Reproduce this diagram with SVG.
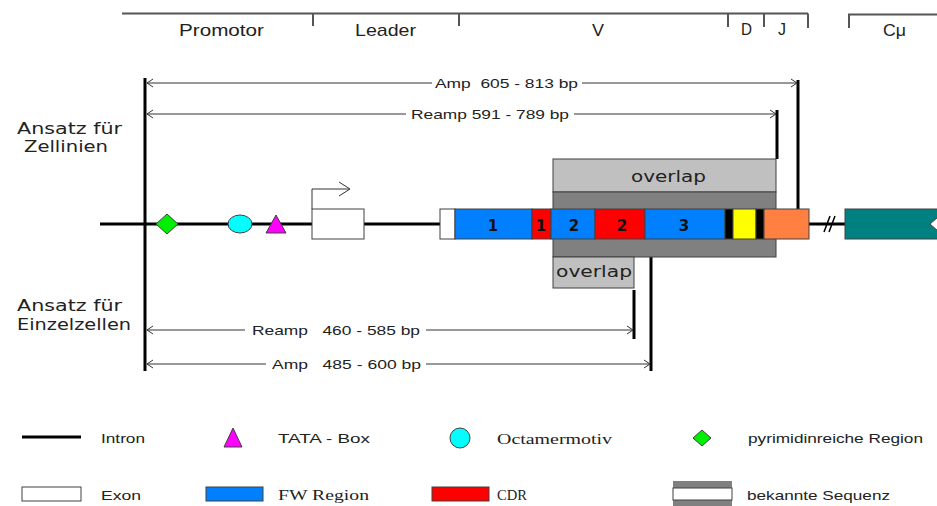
<svg xmlns="http://www.w3.org/2000/svg" width="937" height="506" viewBox="0 0 937 506">
<style>
.hdr{font-family:"Liberation Sans",Arial,sans-serif;font-size:17px;fill:#222}
.dim{font-family:"Liberation Sans",Arial,sans-serif;font-size:13px;fill:#222;white-space:pre}
.ans{font-family:"DejaVu Sans",Verdana,sans-serif;font-size:15px;fill:#222}
.ovl{font-family:"DejaVu Sans",Verdana,sans-serif;font-size:15px;fill:#222}
.num{font-family:"DejaVu Sans",Verdana,sans-serif;font-size:15px;font-weight:bold;fill:#111}
.lgs{font-family:"Liberation Sans",Arial,sans-serif;font-size:13px;fill:#222}
.lgr{font-family:"Liberation Serif","Times New Roman",serif;font-size:14px;fill:#222}
.thin{stroke:#333;stroke-width:1;fill:none}
.thick{stroke:#000;stroke-width:3;fill:none}
.bx{stroke:#404040;stroke-width:1}
</style>
<defs>
<marker id="ah" viewBox="-1 -5 8 10" markerWidth="8" markerHeight="10" refX="6" refY="0" orient="auto-start-reverse" markerUnits="userSpaceOnUse">
<path d="M0,-4 L6,0 L0,4" fill="none" stroke="#333" stroke-width="1"/>
</marker>
</defs>
<rect width="937" height="506" fill="#fff"/>

<g id="header">
<path d="M122,13.5 H808 M313,13.5 V26 M459,13.5 V26 M728,13.5 V27 M764,13.5 V27 M808,13.5 V28 M849,28 V14.5 H937" stroke="#555" stroke-width="2" fill="none"/>
<text class="hdr" x="179" y="36" textLength="85" lengthAdjust="spacingAndGlyphs">Promotor</text>
<text class="hdr" x="355" y="36" textLength="61" lengthAdjust="spacingAndGlyphs">Leader</text>
<text class="hdr" x="592" y="36" textLength="12" lengthAdjust="spacingAndGlyphs">V</text>
<text class="hdr" x="741" y="35" textLength="11" lengthAdjust="spacingAndGlyphs">D</text>
<text class="hdr" x="778" y="35" textLength="8" lengthAdjust="spacingAndGlyphs">J</text>
<text class="hdr" x="883" y="36" textLength="23" lengthAdjust="spacingAndGlyphs">Cμ</text>
</g>

<g id="labels">
<text class="ans" x="17" y="134" textLength="105" lengthAdjust="spacingAndGlyphs">Ansatz für</text>
<text class="ans" x="24" y="152" textLength="84" lengthAdjust="spacingAndGlyphs">Zellinien</text>
<text class="ans" x="17" y="311" textLength="105" lengthAdjust="spacingAndGlyphs">Ansatz für</text>
<text class="ans" x="17" y="330" textLength="114" lengthAdjust="spacingAndGlyphs">Einzelzellen</text>
</g>

<g id="connectors">
<path class="thick" d="M100,224 H440 M809,224 H845"/>
<path class="thick" d="M145,78 V371"/>
<path class="thick" d="M798,80 V209"/>
<path class="thick" d="M777,110 V159"/>
<path class="thick" d="M651,257 V371"/>
<path class="thick" d="M634,290 V339"/>
<path d="M824,232 L830,216 M829,232 L835,216" stroke="#000" stroke-width="1.5"/>
<line class="thin" x1="147" y1="83" x2="432" y2="83" marker-start="url(#ah)"/>
<line class="thin" x1="582" y1="83" x2="797" y2="83" marker-end="url(#ah)"/>
<line class="thin" x1="147" y1="114" x2="406" y2="114" marker-start="url(#ah)"/>
<line class="thin" x1="574" y1="114" x2="776" y2="114" marker-end="url(#ah)"/>
<line class="thin" x1="147" y1="330" x2="245" y2="330" marker-start="url(#ah)"/>
<line class="thin" x1="426" y1="330" x2="633" y2="330" marker-end="url(#ah)"/>
<line class="thin" x1="147" y1="364" x2="266" y2="364" marker-start="url(#ah)"/>
<line class="thin" x1="426" y1="364" x2="650" y2="364" marker-end="url(#ah)"/>
<text class="dim" x="435" y="88" textLength="143" lengthAdjust="spacingAndGlyphs" xml:space="preserve">Amp  605 - 813 bp</text>
<text class="dim" x="411" y="119" textLength="158" lengthAdjust="spacingAndGlyphs">Reamp 591 - 789 bp</text>
<text class="dim" x="252" y="335" textLength="168" lengthAdjust="spacingAndGlyphs" xml:space="preserve">Reamp   460 - 585 bp</text>
<text class="dim" x="272" y="369" textLength="149" lengthAdjust="spacingAndGlyphs" xml:space="preserve">Amp   485 - 600 bp</text>
</g>

<g id="pyrimidin">
<polygon points="156,224 167,214 178,224 167,234" fill="#00ee00" class="bx"/>
</g>
<g id="octamer">
<ellipse cx="240" cy="224" rx="12" ry="9" fill="#00ffff" class="bx"/>
</g>
<g id="tata">
<polygon points="276,215 286,233 266,233" fill="#ff00ff" class="bx"/>
</g>
<g id="promoter-exon">
<rect x="312" y="209" width="52" height="30" fill="#fff" class="bx"/>
<path d="M312,209 V189 H349" stroke="#333" stroke-width="1" fill="none"/>
<path d="M339,182 L350,189 L339,196" stroke="#333" stroke-width="1" fill="none"/>
</g>

<g id="overlap-known">
<rect x="553" y="159" width="223" height="33" fill="#c0c0c0" class="bx"/>
<text class="ovl" x="631" y="182" textLength="75" lengthAdjust="spacingAndGlyphs">overlap</text>
<rect x="553" y="192" width="223" height="65" fill="#808080" class="bx"/>
</g>
<g id="overlap-single">
<rect x="553" y="257" width="81" height="31" fill="#c0c0c0" class="bx"/>
<text class="ovl" x="556" y="277" textLength="76" lengthAdjust="spacingAndGlyphs">overlap</text>
</g>

<g id="vexon">
<rect x="440" y="209" width="15" height="30" fill="#fff" class="bx"/>
<rect x="455" y="209" width="77" height="30" fill="#0080ff" class="bx"/>
<rect x="532" y="209" width="19" height="30" fill="#ff0000" class="bx"/>
<rect x="551" y="209" width="44" height="30" fill="#0080ff" class="bx"/>
<rect x="595" y="209" width="50" height="30" fill="#ff0000" class="bx"/>
<rect x="645" y="209" width="80" height="30" fill="#0080ff" class="bx"/>
<rect x="725" y="209" width="8" height="30" fill="#000" class="bx"/>
<rect x="733" y="209" width="23" height="30" fill="#ffff00" class="bx"/>
<rect x="756" y="209" width="8" height="30" fill="#000" class="bx"/>
<rect x="764" y="209" width="45" height="30" fill="#ff8040" class="bx"/>
<text class="num" x="493" y="231" text-anchor="middle">1</text>
<text class="num" x="541" y="231" text-anchor="middle">1</text>
<text class="num" x="574" y="231" text-anchor="middle">2</text>
<text class="num" x="622" y="231" text-anchor="middle">2</text>
<text class="num" x="684" y="231" text-anchor="middle">3</text>
</g>

<g id="cmu">
<rect x="845" y="209" width="100" height="30" fill="#008080" class="bx"/>
<polygon points="938,217 930,224 938,231" fill="#fff" stroke="#404040" stroke-width="1"/>
</g>

<g id="legend">
<line x1="22" y1="437" x2="81" y2="437" stroke="#000" stroke-width="3"/>
<text class="lgs" x="101" y="443" textLength="44" lengthAdjust="spacingAndGlyphs">Intron</text>
<polygon points="233,428 242,447 224,447" fill="#ff00ff" class="bx"/>
<text class="lgs" x="278" y="443" textLength="92" lengthAdjust="spacingAndGlyphs">TATA - Box</text>
<ellipse cx="460" cy="438" rx="10" ry="10" fill="#00ffff" class="bx"/>
<text class="lgr" x="497" y="444" textLength="115" lengthAdjust="spacingAndGlyphs">Octamermotiv</text>
<polygon points="693,438 702,430 711,438 702,446" fill="#00ee00" class="bx"/>
<text class="lgs" x="748" y="443" textLength="175" lengthAdjust="spacingAndGlyphs">pyrimidinreiche Region</text>

<rect x="22" y="487" width="59" height="14" fill="#fff" class="bx"/>
<text class="lgs" x="101" y="500" textLength="40" lengthAdjust="spacingAndGlyphs">Exon</text>
<rect x="206" y="487" width="57" height="14" fill="#0080ff" class="bx"/>
<text class="lgr" x="278" y="500" textLength="91" lengthAdjust="spacingAndGlyphs">FW Region</text>
<rect x="432" y="487" width="57" height="14" fill="#ff0000" class="bx"/>
<text class="lgr" x="497" y="500" textLength="30" lengthAdjust="spacingAndGlyphs">CDR</text>
<rect x="673" y="481" width="59" height="25" fill="#808080"/>
<rect x="673" y="488" width="59" height="12" fill="#fff" class="bx"/>
<text class="lgs" x="747" y="500" textLength="143" lengthAdjust="spacingAndGlyphs">bekannte Sequenz</text>
</g>
</svg>
